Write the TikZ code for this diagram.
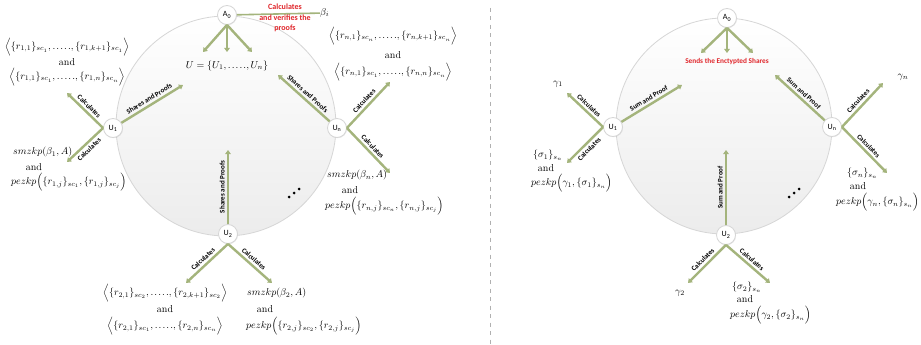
\documentclass[tikz,border=0pt]{standalone}
\usepackage{fontspec}
\setsansfont{Carlito}
\usetikzlibrary{arrows.meta,shadows}
\definecolor{arrowgreen}{HTML}{A4B47C}
\definecolor{ringgray}{HTML}{D6D6D6}
\definecolor{notered}{HTML}{E0262B}
\definecolor{sepgray}{HTML}{B0B0B0}
\newcommand{\fivedots}{.\mkern2mu.\mkern2mu.\mkern2mu.\mkern2mu.}
\tikzset{
  party/.style={circle, draw=ringgray, fill=white, line width=0.8pt,
    minimum size=19pt, inner sep=0pt, font=\sffamily\fontsize{8}{8}\selectfont,
    drop shadow={opacity=0.18, shadow xshift=0.5pt, shadow yshift=-0.7pt}},
  flow/.style={draw=arrowgreen, line width=2.4pt, -{Triangle[length=4pt,width=5.5pt]}},
  plainflow/.style={draw=arrowgreen, line width=1.6pt},
  tag/.style={font=\sffamily\bfseries\fontsize{7}{7}\selectfont, sloped, midway, inner sep=2.2pt},
  disc/.style={draw=ringgray, line width=0.8pt, top color=white, bottom color=gray!15},
  eq/.style={font=\fontsize{10}{12}\selectfont, inner sep=0pt},
  note/.style={text=notered, font=\sffamily\bfseries\fontsize{8}{10.5}\selectfont, align=center, inner sep=0pt},
  divider/.style={draw=sepgray, line width=0.9pt, dash pattern=on 4pt off 4.5pt}
}
\begin{document}
\begin{tikzpicture}[x=1pt,y=-1pt]
\useasboundingbox[fill=white] (0,0) rectangle (921,345);

% ---------- left panel: sharing phase ----------
\path[disc] (226,126) circle (110);
\node[party] (A0) at (227,15) {A\textsubscript{0}};
\node[party] (U1) at (113,128) {U\textsubscript{1}};
\node[party] (Un) at (337,128) {U\textsubscript{n}};
\node[party] (U2) at (228,234) {U\textsubscript{2}};

\coordinate (a1) at (203,52);
\coordinate (a2) at (227,52);
\coordinate (a3) at (252,52);
\draw[flow] (A0.south) -- (a1);
\draw[flow] (A0.south) -- (a2);
\draw[flow] (A0.south) -- (a3);
\node[eq] (Uset) at (227,66) {$U=\{U_1,\fivedots,U_n\}$};

\node[eq, anchor=west] (beta) at (320,13) {$\beta_i$};
\draw[plainflow] (A0) -- (beta);
\node[note] (verify) at (285,18) {Calculates\\and verifies the\\proofs};

% U1
\coordinate (s1) at (183,85);
\coordinate (c1u) at (67,93);
\coordinate (c1d) at (67,162);
\draw[flow] (U1) -- (s1) node[tag, above] {Shares and Proofs};
\draw[flow] (U1.west) -- (c1u) node[tag, above] {Calculates};
\draw[flow] (U1.west) -- (c1d) node[tag, below] {Calculates};
\node[eq] (r1a) at (67,47) {$\Big\langle \{r_{1,1}\}_{sc_1},\fivedots,\{r_{1,k+1}\}_{sc_1}\Big\rangle$};
\node[eq] (r1and) at (67,62) {and};
\node[eq] (r1b) at (67,77) {$\Big\langle \{r_{1,1}\}_{sc_1},\fivedots,\{r_{1,n}\}_{sc_n}\Big\rangle$};
\node[eq, anchor=west] (p1a) at (13,152) {$smzkp(\beta_1,A)$};
\node[eq] (p1and) at (34,167) {and};
\node[eq, anchor=west] (p1b) at (11,182) {$pezkp\Big(\{r_{1,j}\}_{sc_1},\{r_{1,j}\}_{sc_j}\Big)$};

% Un
\coordinate (sn) at (278,75);
\coordinate (cnu) at (390,82);
\coordinate (cnd) at (390,173);
\draw[flow] (Un) -- (sn) node[tag, above] {Shares and Proofs};
\draw[flow] (Un.east) -- (cnu) node[tag, above] {Calculates};
\draw[flow] (Un.east) -- (cnd) node[tag, above] {Calculates};
\node[eq] (rna) at (393,36) {$\Big\langle \{r_{n,1}\}_{sc_n},\fivedots,\{r_{n,k+1}\}_{sc_n}\Big\rangle$};
\node[eq] (rnand) at (393,55) {and};
\node[eq] (rnb) at (393,72) {$\Big\langle \{r_{n,1}\}_{sc_1},\fivedots,\{r_{n,n}\}_{sc_n}\Big\rangle$};
\node[eq, anchor=west] (pna) at (327,175) {$smzkp(\beta_n,A)$};
\node[eq] (pnand) at (350,190) {and};
\node[eq, anchor=west] (pnb) at (325,206) {$pezkp\Big(\{r_{n,j}\}_{sc_n},\{r_{n,j}\}_{sc_j}\Big)$};

% U2
\coordinate (s2) at (228,150);
\coordinate (c2l) at (186,283);
\coordinate (c2r) at (272,283);
\draw[flow] (U2) -- (s2) node[tag, above] {Shares and Proofs};
\draw[flow] (U2.south) -- (c2l) node[tag, above] {Calculates};
\draw[flow] (U2.south) -- (c2r) node[tag, above] {Calculates};
\node[eq] (r2a) at (165,293) {$\Big\langle \{r_{2,1}\}_{sc_2},\fivedots,\{r_{2,k+1}\}_{sc_2}\Big\rangle$};
\node[eq] (r2and) at (165,309) {and};
\node[eq] (r2b) at (165,326) {$\Big\langle \{r_{2,1}\}_{sc_1},\fivedots,\{r_{2,n}\}_{sc_n}\Big\rangle$};
\node[eq, anchor=west] (p2a) at (247,293) {$smzkp(\beta_2,A)$};
\node[eq] (p2and) at (265,309) {and};
\node[eq, anchor=west] (p2b) at (246,326) {$pezkp\Big(\{r_{2,j}\}_{sc_2},\{r_{2,j}\}_{sc_j}\Big)$};

\foreach \p in {(289,197),(294,193),(299,189)} \fill \p circle (1.5);

% ---------- divider ----------
\coordinate (dtop) at (490,8);
\coordinate (dbot) at (490,345);
\draw[divider] (dtop) -- (dbot);

% ---------- right panel: reconstruction phase ----------
\path[disc] (724,126) circle (108);
\node[party] (B0) at (727,18) {A\textsubscript{0}};
\node[party] (V1) at (613,127) {U\textsubscript{1}};
\node[party] (Vn) at (832,127) {U\textsubscript{n}};
\node[party] (V2) at (726,235) {U\textsubscript{2}};

\coordinate (b1) at (701,53);
\coordinate (b2) at (727,53);
\coordinate (b3) at (753,53);
\draw[flow] (B0.south) -- (b1);
\draw[flow] (B0.south) -- (b2);
\draw[flow] (B0.south) -- (b3);
\node[note, font=\sffamily\bfseries\fontsize{7.3}{8}\selectfont] (sends) at (727,62) {Sends the Enctypted Shares};

% U1
\coordinate (t1) at (682,85);
\coordinate (d1u) at (567,93);
\coordinate (d1d) at (567,163);
\draw[flow] (V1) -- (t1) node[tag, above] {Sum and Proof};
\draw[flow] (V1.west) -- (d1u) node[tag, above] {Calculates};
\draw[flow] (V1.west) -- (d1d) node[tag, below] {Calculates};
\node[eq] (g1) at (558,84) {$\gamma_1$};
\node[eq, anchor=west] (q1a) at (533,155) {$\{\sigma_1\}_{s_n}$};
\node[eq] (q1and) at (546,168) {and};
\node[eq, anchor=west] (q1b) at (531,183) {$pezkp\Big(\gamma_1,\{\sigma_1\}_{s_n}\Big)$};

% Un
\coordinate (tn) at (775,75);
\coordinate (dnu) at (883,83);
\coordinate (dnd) at (887,173);
\draw[flow] (Vn) -- (tn) node[tag, above] {Sum and Proof};
\draw[flow] (Vn.east) -- (dnu) node[tag, above] {Calculates};
\draw[flow] (Vn.east) -- (dnd) node[tag, above] {Calculates};
\node[eq] (gn) at (903,77) {$\gamma_n$};
\node[eq, anchor=west] (qna) at (847,173) {$\{\sigma_n\}_{s_n}$};
\node[eq] (qnand) at (858,186) {and};
\node[eq, anchor=east] (qnb) at (919,202) {$pezkp\Big(\gamma_n,\{\sigma_n\}_{s_n}\Big)$};

% U2
\coordinate (t2) at (726,150);
\coordinate (d2l) at (688,283);
\coordinate (d2r) at (770,283);
\draw[flow] (V2) -- (t2) node[tag, above] {Sum and Proof};
\draw[flow] (V2.south) -- (d2l) node[tag, above] {Calculates};
\draw[flow] (V2.south) -- (d2r) node[tag, above] {Calculates};
\node[eq] (g2) at (680,293) {$\gamma_2$};
\node[eq, anchor=west] (q2a) at (732,287) {$\{\sigma_2\}_{s_n}$};
\node[eq] (q2and) at (745,299) {and};
\node[eq, anchor=west] (q2b) at (730,315) {$pezkp\Big(\gamma_2,\{\sigma_2\}_{s_n}\Big)$};

\foreach \p in {(789,197),(794,193),(799,189)} \fill \p circle (1.5);
\end{tikzpicture}
\end{document}
